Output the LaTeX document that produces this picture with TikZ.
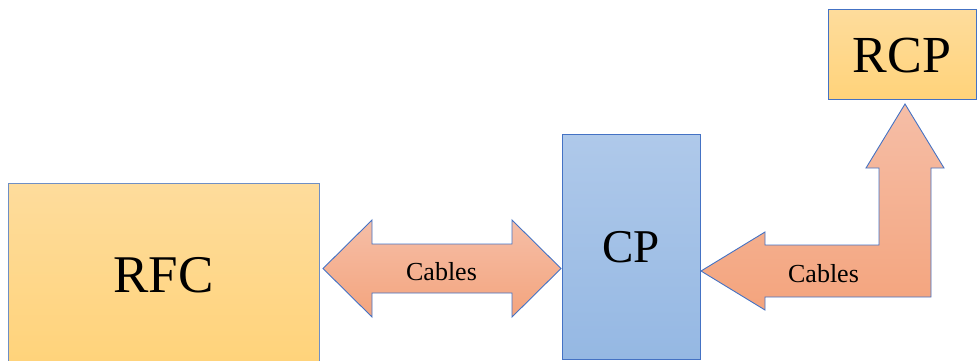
\documentclass[tikz,border=0pt]{standalone}
\usepackage{fontspec}
\setmainfont{Liberation Serif}
\definecolor{edgeblue}{HTML}{4472C4}
\definecolor{edgegrey}{HTML}{6F8FC4}
\definecolor{ytop}{HTML}{FEDC9C}
\definecolor{ybot}{HTML}{FFD37A}
\definecolor{btop}{HTML}{AFC9EA}
\definecolor{bbot}{HTML}{95B8E3}
\definecolor{otop}{HTML}{F5BEA7}
\definecolor{obot}{HTML}{F4A47D}
\tikzset{
  yellowbox/.style={draw=edgeblue, line width=0.9pt, top color=ytop, bottom color=ybot, inner sep=0pt, text depth=0pt},
  bluebox/.style={draw=edgeblue, line width=0.9pt, top color=btop, bottom color=bbot, inner sep=0pt, text depth=0pt},
  blockarrow/.style={draw=edgeblue, line width=0.9pt, top color=otop, bottom color=obot, line join=miter},
  cablelabel/.style={font=\fontsize{26}{30}\selectfont, inner sep=0pt, anchor=base}
}
\begin{document}
\begin{tikzpicture}[x=1pt,y=-1pt]
\useasboundingbox (0,0) rectangle (977,360);
% boxes
\node[yellowbox, draw=edgegrey, minimum width=311pt, minimum height=182pt, text height=36pt,
      font=\fontsize{53}{60}\selectfont] (rfc) at (163.5,274) {RFC};
\node[bluebox, minimum width=138pt, minimum height=225pt, text height=31pt,
      font=\fontsize{47}{54}\selectfont] (cp) at (631,246.5) {CP};
\node[yellowbox, minimum width=148pt, minimum height=90pt, text height=35pt,
      font=\fontsize{52}{58}\selectfont] (rcp) at (902,54.5) {RCP};
% double arrow RFC <-> CP
\path[blockarrow] (323,268.5) -- (372,220) -- (372,244) -- (512,244) -- (512,220)
  -- (561,268.5) -- (512,317) -- (512,293) -- (372,293) -- (372,317) -- cycle;
\node[cablelabel] (cab1) at (441.5,280) {Cables};
% bent arrow CP -> RCP
\path[blockarrow] (701,271) -- (765,232) -- (765,245) -- (879,245) -- (879,168)
  -- (866,168) -- (905,104) -- (944,168) -- (931,168) -- (931,297) -- (765,297)
  -- (765,310) -- cycle;
\node[cablelabel] (cab2) at (823.5,282) {Cables};
\end{tikzpicture}
\end{document}
